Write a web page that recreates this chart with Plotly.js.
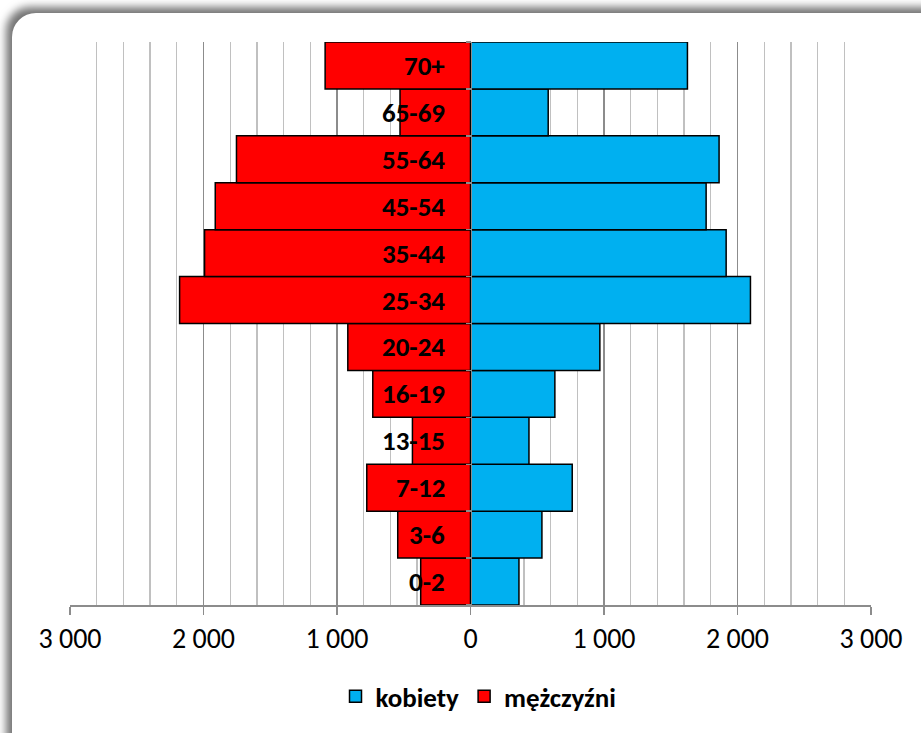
<!DOCTYPE html>
<html>
<head>
<meta charset="utf-8">
<script src="https://cdn.plot.ly/plotly-3.0.1.min.js"></script>
<style>
  html, body { margin:0; padding:0; background:#ffffff; width:921px; height:733px; overflow:hidden; }
  #frame { position:absolute; left:12px; top:13px; width:950px; height:770px; border-radius:24px; background:#ffffff;
           box-shadow: -6px -6px 9px 0px rgba(0,0,0,0.55); }
  #chart { position:absolute; left:0; top:0; width:921px; height:733px; }
</style>
</head>
<body>
<div id="frame"></div>
<div id="chart"></div>
<script>
// Age groups (bottom to top)
var categories = ['0-2','3-6','7-12','13-15','16-19','20-24','25-34','35-44','45-54','55-64','65-69','70+'];
// kobiety (women)
var women = [363, 535, 762, 438, 632, 969, 2097, 1915, 1765, 1862, 582, 1625];
// mężczyźni (men)
var men = [373, 545, 777, 435, 732, 919, 2179, 1992, 1912, 1753, 528, 1089];
// x-axis ticks
var tickValues = [-3000, -2000, -1000, 0, 1000, 2000, 3000];
var tickLabels = ['3 000', '2 000', '1 000', '0', '1 000', '2 000', '3 000'];
var seriesNames = ['kobiety', 'mężczyźni'];

var FONT = 'Carlito, Lato, "Liberation Sans", sans-serif';

var traces = [
  {
    type: 'bar', orientation: 'h', name: seriesNames[0],
    y: categories, x: women,
    marker: { color: '#00B0F0', line: { color: '#000000', width: 1.5 } },
    hoverinfo: 'none'
  },
  {
    type: 'bar', orientation: 'h', name: seriesNames[1],
    y: categories, x: men.map(function (v) { return -v; }),
    marker: { color: '#FF0000', line: { color: '#000000', width: 1.5 } },
    hoverinfo: 'none'
  }
];

var annotations = categories.map(function (c) {
  return {
    x: 0, y: c, xref: 'x', yref: 'y', text: c, showarrow: false,
    xanchor: 'right', yanchor: 'middle', xshift: -24,
    font: { family: FONT, size: 27, color: '#000000', weight: 'bold' }
  };
});

var layout = {
  width: 921, height: 733,
  margin: { l: 70, r: 50, t: 42, b: 128, pad: 0 },
  paper_bgcolor: 'rgba(0,0,0,0)',
  plot_bgcolor: 'rgba(0,0,0,0)',
  barmode: 'relative',
  bargap: 0,
  showlegend: true,
  legend: {
    orientation: 'h', x: 0.51, xanchor: 'center', y: -0.163, yanchor: 'middle',
    font: { family: FONT, size: 27, color: '#000000', weight: 'bold' },
    traceorder: 'normal', bgcolor: 'rgba(0,0,0,0)'
  },
  xaxis: {
    range: [-3000, 3000],
    tickvals: tickValues, ticktext: tickLabels,
    tickfont: { family: FONT, size: 28, color: '#000000' },
    ticks: 'outside', ticklen: 8, tickwidth: 1.5, tickcolor: '#8c8c8c',
    showline: true, linecolor: '#8c8c8c', linewidth: 1.5,
    showgrid: true, gridcolor: '#8c8c8c', gridwidth: 1.3,
    minor: { dtick: 200, showgrid: true, gridcolor: '#c0c0c0', gridwidth: 1.3, ticks: '' },
    zeroline: false, fixedrange: true
  },
  yaxis: {
    type: 'category',
    anchor: 'free', position: 0.5,
    showticklabels: false,
    ticks: 'outside', tickson: 'boundaries', ticklen: 5, tickwidth: 1.5, tickcolor: '#8c8c8c',
    showline: true, linecolor: '#8c8c8c', linewidth: 1.5,
    showgrid: false, zeroline: false, fixedrange: true,
    layer: 'above traces'
  },
  annotations: annotations,
  font: { family: FONT }
};

Plotly.newPlot('chart', traces, layout, { displayModeBar: false, staticPlot: true });
</script>
</body>
</html>
